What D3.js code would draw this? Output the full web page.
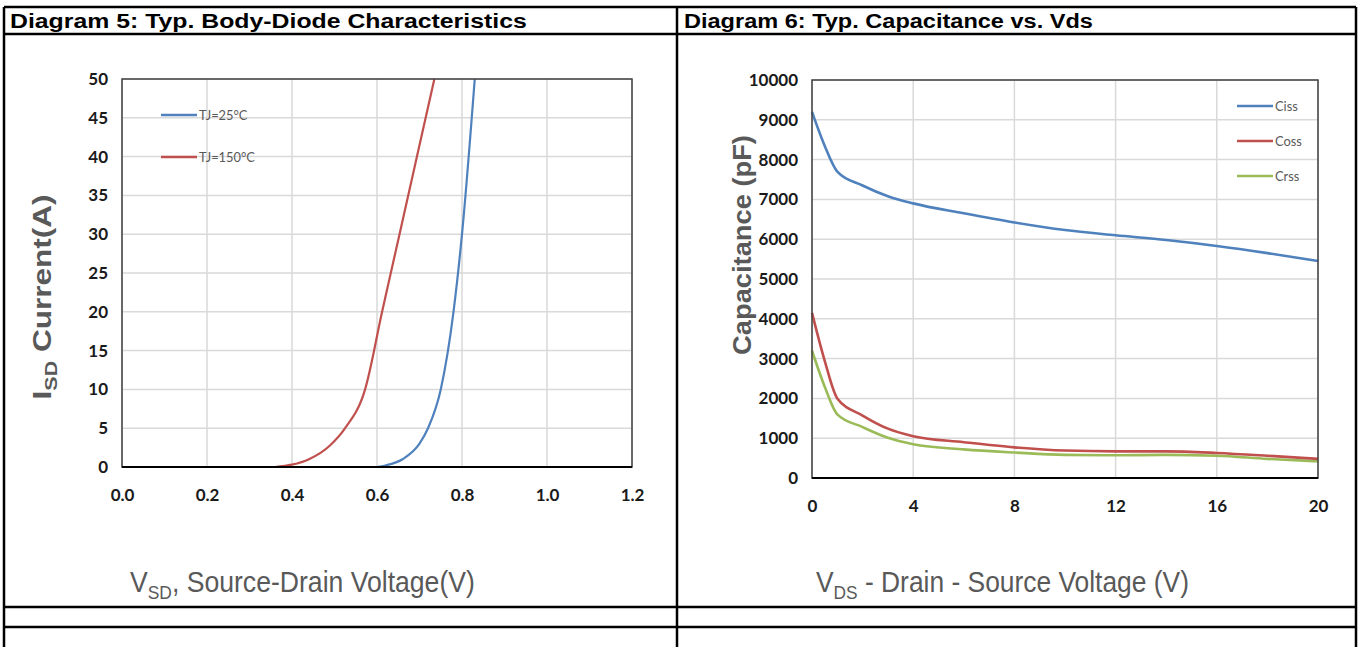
<!DOCTYPE html>
<html>
<head>
<meta charset="utf-8">
<script src="https://cdn.jsdelivr.net/npm/d3@7/dist/d3.min.js"></script>
<style>
  html, body { margin: 0; padding: 0; background: #fff; }
  svg { display: block; }
</style>
</head>
<body>
<svg id="chart" width="1360" height="647"></svg>
<script>
// ---------- DATA ----------
const headerTitles = ["Diagram 5: Typ. Body-Diode Characteristics", "Diagram 6: Typ. Capacitance vs. Vds"];

// Diagram 5
const vsdTicks = [0.0, 0.2, 0.4, 0.6, 0.8, 1.0, 1.2];
const isdTicks = [0, 5, 10, 15, 20, 25, 30, 35, 40, 45, 50];
const diodeSeriesNames = ["TJ=25°C", "TJ=150°C"];
const diode25V = [0.60, 0.62, 0.66, 0.70, 0.72, 0.75, 0.78, 0.80, 0.83];
const diode25I = [0, 0.2, 1, 3, 5, 10, 20, 30, 50];
const diode150V = [0.36, 0.40, 0.44, 0.49, 0.525, 0.572, 0.612, 0.653, 0.735];
const diode150I = [0, 0.3, 1, 2.8, 5, 10, 20, 30, 50];

// Diagram 6
const vdsTicks = [0, 4, 8, 12, 16, 20];
const capTicks = [0, 1000, 2000, 3000, 4000, 5000, 6000, 7000, 8000, 9000, 10000];
const capSeriesNames = ["Ciss", "Coss", "Crss"];
const vdsPoints = [0, 0.5, 1, 2, 3, 4, 6, 8, 10, 12, 14, 16, 18, 20];
const cissValues = [9200, 8350, 7700, 7350, 7080, 6900, 6650, 6420, 6230, 6100, 5980, 5830, 5650, 5450];
const cossValues = [4150, 2950, 2000, 1570, 1240, 1050, 900, 770, 690, 670, 670, 630, 560, 480];
const crssValues = [3200, 2300, 1600, 1280, 1010, 850, 720, 640, 580, 570, 580, 560, 480, 420];

// ---------- STYLE ----------
const blue = "#4F81BD", red = "#C0504D", green = "#9BBB59";
const gridColor = "#d9d9d9";
const tickFont = "Lato, 'Open Sans', sans-serif";
const arial = "'Liberation Sans', Arial, sans-serif";

const svg = d3.select("#chart");
svg.append("rect").attr("width", 1360).attr("height", 647).attr("fill", "#fff");

function fitText(sel, tx, ty, targetW, rotate) {
  const w = sel.node().getBBox().width;
  const k = targetW / w;
  sel.attr("transform", `translate(${tx},${ty})` + (rotate ? " rotate(-90)" : "") + ` scale(${k},1)`);
}

// ---------- TABLE ----------
const tbl = svg.append("g").attr("stroke", "#000").attr("stroke-width", 2.5).attr("fill", "none");
const L = 4, R = 1356, M = 677, T = 7;
const rows = [T, 34, 607, 627];
rows.forEach(y => tbl.append("line").attr("x1", L).attr("x2", R).attr("y1", y).attr("y2", y));
[L, M, R].forEach(x => tbl.append("line").attr("x1", x).attr("x2", x).attr("y1", T).attr("y2", 647));

const h1 = svg.append("text").attr("x", 0).attr("y", 0).text(headerTitles[0])
  .attr("font-family", arial).attr("font-weight", "bold").attr("font-size", 21).attr("fill", "#000");
fitText(h1, 10, 28, 517, false);
const h2 = svg.append("text").attr("x", 0).attr("y", 0).text(headerTitles[1])
  .attr("font-family", arial).attr("font-weight", "bold").attr("font-size", 21).attr("fill", "#000");
fitText(h2, 684, 28, 409, false);

// ---------- helpers ----------
function drawGridBox(g, x, y, xt, yt) {
  const [x0, x1] = x.range(), [y0, y1] = y.range();
  g.append("g").selectAll("line").data(xt).join("line")
    .attr("x1", d => x(d)).attr("x2", d => x(d)).attr("y1", y0).attr("y2", y1)
    .attr("stroke", gridColor).attr("stroke-width", 1.5);
  g.append("g").selectAll("line").data(yt).join("line")
    .attr("x1", x0).attr("x2", x1).attr("y1", d => y(d)).attr("y2", d => y(d))
    .attr("stroke", gridColor).attr("stroke-width", 1.5);
}
function drawAxes(g, x, y, xt, yt, xfmt, yfmt, xLabelDy) {
  const [x0, x1] = x.range(), [y0, y1] = y.range();
  const ax = d3.axisBottom(x).tickValues(xt).tickFormat(xfmt).tickSize(0).tickPadding(xLabelDy);
  const ay = d3.axisLeft(y).tickValues(yt).tickFormat(yfmt).tickSize(0).tickPadding(14);
  const gx = g.append("g").attr("transform", `translate(0,${y0})`).call(ax);
  const gy = g.append("g").attr("transform", `translate(${x0},0)`).call(ay);
  [gx, gy].forEach(a => {
    a.select(".domain").remove();
    a.selectAll("text").attr("font-family", tickFont).attr("font-weight", "bold")
      .attr("font-size", 17).attr("fill", "#1a1a1a");
  });
  g.append("rect").attr("x", x0).attr("y", y1).attr("width", x1 - x0).attr("height", y0 - y1)
    .attr("fill", "none").attr("stroke", "#404040").attr("stroke-width", 1.5);
  g.append("line").attr("x1", x0).attr("x2", x1).attr("y1", y0).attr("y2", y0)
    .attr("stroke", "#000").attr("stroke-width", 2);
}
function legend(g, items, x, y0, dy) {
  items.forEach((it, i) => {
    const yy = y0 + i * dy;
    g.append("line").attr("x1", x).attr("x2", x + 36).attr("y1", yy).attr("y2", yy)
      .attr("stroke", it.color).attr("stroke-width", 2.5);
    g.append("text").attr("x", 0).attr("y", 0).text(it.name)
      .attr("font-family", tickFont).attr("font-size", 14).attr("fill", "#595959")
      .attr("transform", `translate(${x + 38},${yy + 5}) scale(0.92,1)`);
  });
}

// ---------- Diagram 5 ----------
{
  const g = svg.append("g");
  const x = d3.scaleLinear().domain([0, 1.2]).range([122, 632]);
  const y = d3.scaleLinear().domain([0, 50]).range([467, 79]);
  drawGridBox(g, x, y, vsdTicks, isdTicks);
  const line = d3.line().x(d => x(d[0])).y(d => y(d[1])).curve(d3.curveMonotoneX);
  const s25 = diode25V.map((v, i) => [v, diode25I[i]]);
  const s150 = diode150V.map((v, i) => [v, diode150I[i]]);
  g.append("path").datum(s25).attr("d", line).attr("fill", "none").attr("stroke", blue).attr("stroke-width", 2.2);
  g.append("path").datum(s150).attr("d", line).attr("fill", "none").attr("stroke", red).attr("stroke-width", 2.2);
  drawAxes(g, x, y, vsdTicks, isdTicks, d3.format(".1f"), d3.format("d"), 22);
  legend(g, [{name: diodeSeriesNames[0], color: blue}, {name: diodeSeriesNames[1], color: red}], 161, 115, 42);

  const yt = g.append("text").attr("x", 0).attr("y", 0)
    .attr("font-family", arial).attr("font-weight", "bold")
    .attr("font-size", 25).attr("fill", "#595959").attr("text-anchor", "middle");
  yt.append("tspan").text("I");
  yt.append("tspan").text("SD").attr("font-size", 17).attr("dy", 6);
  yt.append("tspan").text(" Current(A)").attr("dy", -6);
  fitText(yt, 51, 297, 205, true);

  const xt = g.append("text").attr("x", 0).attr("y", 0)
    .attr("font-family", arial).attr("font-size", 29).attr("fill", "#595959");
  xt.append("tspan").text("V");
  xt.append("tspan").text("SD").attr("font-size", 19).attr("dy", 7);
  xt.append("tspan").text(", Source-Drain Voltage(V)").attr("dy", -7);
  fitText(xt, 130, 592, 345, false);
}

// ---------- Diagram 6 ----------
{
  const g = svg.append("g");
  const x = d3.scaleLinear().domain([0, 20]).range([812, 1318]);
  const y = d3.scaleLinear().domain([0, 10000]).range([478, 80]);
  drawGridBox(g, x, y, vdsTicks, capTicks);
  const line = d3.line().x(d => x(d[0])).y(d => y(d[1])).curve(d3.curveMonotoneX);
  const series = [
    {name: capSeriesNames[0], color: blue, vals: cissValues},
    {name: capSeriesNames[1], color: red, vals: cossValues},
    {name: capSeriesNames[2], color: green, vals: crssValues}
  ];
  series.slice().reverse().forEach(s => {
    g.append("path").datum(vdsPoints.map((v, i) => [v, s.vals[i]])).attr("d", line)
      .attr("fill", "none").attr("stroke", s.color).attr("stroke-width", 2.6);
  });
  drawAxes(g, x, y, vdsTicks, capTicks, d3.format("d"), d3.format("d"), 22);
  legend(g, series, 1237, 106, 35);

  const yt = g.append("text").attr("x", 0).attr("y", 0)
    .attr("font-family", arial).attr("font-weight", "bold")
    .attr("font-size", 25).attr("fill", "#595959").attr("text-anchor", "middle")
    .text("Capacitance (pF)");
  fitText(yt, 751, 245, 220, true);

  const xt = g.append("text").attr("x", 0).attr("y", 0)
    .attr("font-family", arial).attr("font-size", 29).attr("fill", "#595959");
  xt.append("tspan").text("V");
  xt.append("tspan").text("DS").attr("font-size", 19).attr("dy", 7);
  xt.append("tspan").text(" - Drain - Source Voltage (V)").attr("dy", -7);
  fitText(xt, 816, 592, 373, false);
}
</script>
</body>
</html>
